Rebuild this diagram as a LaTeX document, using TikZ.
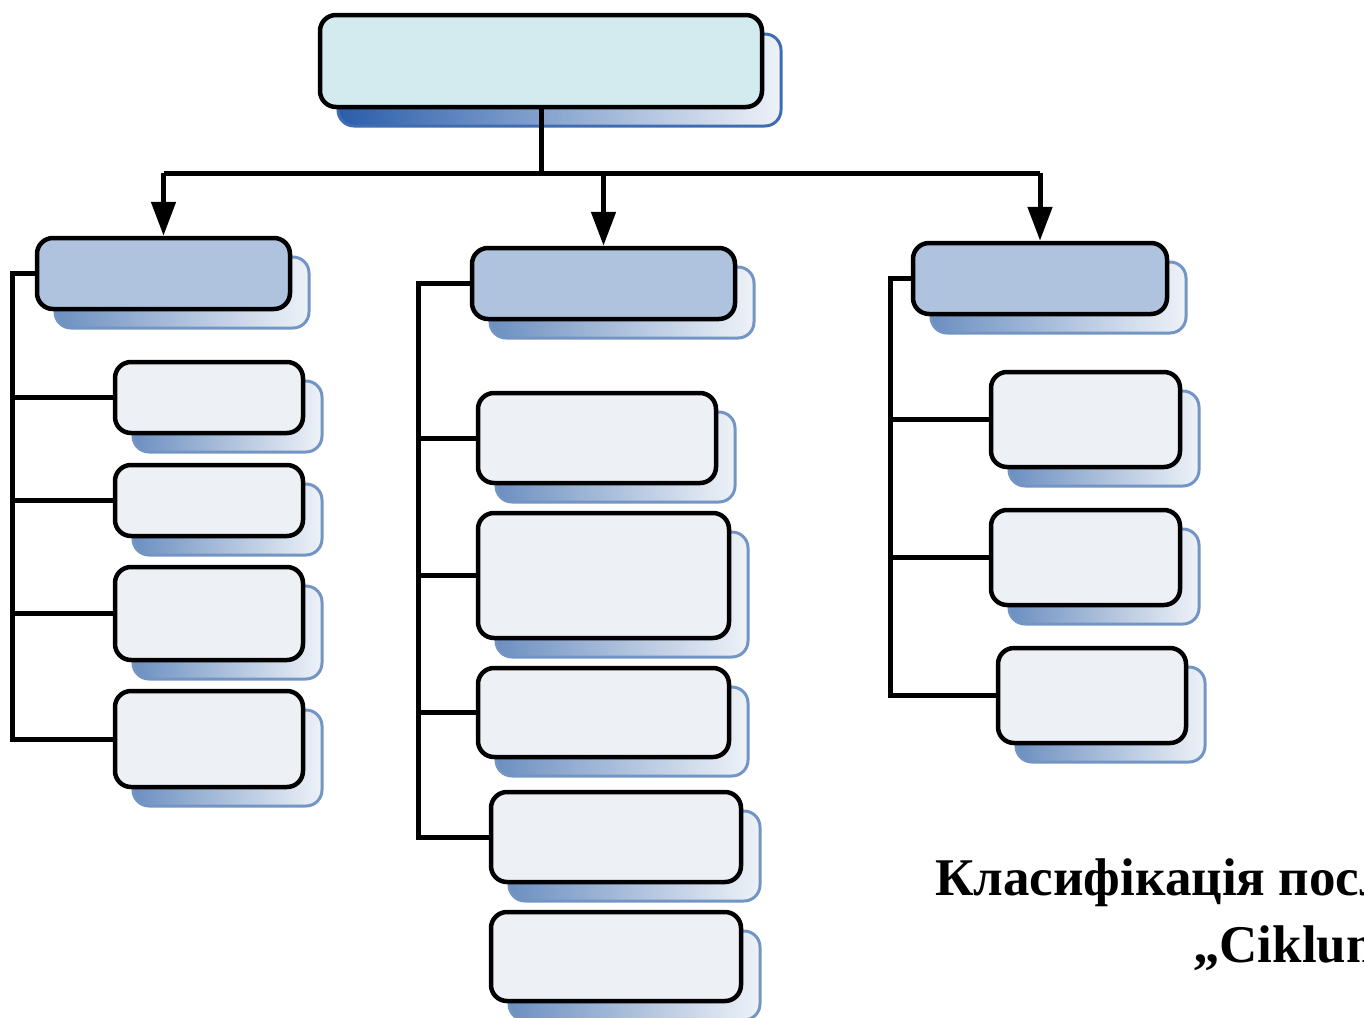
\documentclass[tikz,border=0pt]{standalone}
\usepackage{fontspec}
\setmainfont{Liberation Serif}
\usetikzlibrary{arrows.meta}

\definecolor{topfill}{HTML}{D3EBEF}
\definecolor{midfill}{HTML}{B0C3DE}
\definecolor{leaffill}{HTML}{EDF0F5}
\definecolor{shdark}{HTML}{2A5DAA}
\definecolor{shmid}{HTML}{6C8FC0}
\definecolor{shlight}{HTML}{EEF2F8}

\tikzset{
  boxline/.style={draw=black, line width=4.5pt, rounded corners=16pt, inner sep=0pt},
  topbox/.style={boxline, fill=topfill},
  midbox/.style={boxline, fill=midfill},
  leafbox/.style={boxline, fill=leaffill},
  shadowtop/.style={left color=shdark, right color=shlight, draw=shdark!90, line width=3pt, rounded corners=16pt},
  shadowsoft/.style={left color=shmid, right color=shlight, draw=shmid!95, line width=3pt, rounded corners=16pt},
  conn/.style={draw=black, line width=5pt},
  arr/.style={conn, -{Triangle[width=24pt,length=34pt]}},
  caption/.style={font=\fontsize{53}{58}\selectfont\bfseries, inner sep=0pt}
}

% box: name, x1, y1, x2, y2, box style, shadow style
\newcommand\shadowedbox[7]{%
  \path[#7] ({#2+18},{#3+19}) rectangle ({#4+19},{#5+19});
  \node[#6, minimum width={(#4-#2)*1pt}, minimum height={(#5-#3)*1pt}]
    (#1) at ({(#2+#4)/2},{(#3+#5)/2}) {};
}

\begin{document}
\begin{tikzpicture}[x=1pt, y=-1pt]
\useasboundingbox (0,0) rectangle (1364,1017);

% root
\shadowedbox{T}{320}{15}{762}{107}{topbox}{shadowtop}

% second level
\shadowedbox{L}{37}{238}{290}{309}{midbox}{shadowsoft}
\shadowedbox{M}{472}{248}{735}{319}{midbox}{shadowsoft}
\shadowedbox{R}{913}{243}{1167}{314}{midbox}{shadowsoft}

% left group
\shadowedbox{L1}{115}{362}{303}{433}{leafbox}{shadowsoft}
\shadowedbox{L2}{115}{465}{303}{536}{leafbox}{shadowsoft}
\shadowedbox{L3}{115}{567}{303}{660}{leafbox}{shadowsoft}
\shadowedbox{L4}{115}{691}{303}{787}{leafbox}{shadowsoft}

% middle group
\shadowedbox{M1}{478}{393}{716}{483}{leafbox}{shadowsoft}
\shadowedbox{M2}{478}{513}{729}{638}{leafbox}{shadowsoft}
\shadowedbox{M3}{478}{668}{729}{757}{leafbox}{shadowsoft}
\shadowedbox{M4}{491}{792}{741}{882}{leafbox}{shadowsoft}
\shadowedbox{M5}{491}{912}{741}{1001}{leafbox}{shadowsoft}

% right group
\shadowedbox{R1}{991}{372}{1180}{467}{leafbox}{shadowsoft}
\shadowedbox{R2}{991}{510}{1180}{605}{leafbox}{shadowsoft}
\shadowedbox{R3}{998}{648}{1186}{743}{leafbox}{shadowsoft}

% bus from the root to the second level
\coordinate (bus) at (0,173);
\draw[conn] (T.south) -- (T.south |- bus);
\draw[conn] (L.north |- bus) -- (R.north |- bus);
\draw[arr] (L.north |- bus) -- (L.north);
\draw[arr] (M.north |- bus) -- (M.north);
\draw[arr] (R.north |- bus) -- (R.north);

% spines of the three groups
\coordinate (sL) at (12,0);
\coordinate (sM) at (418,0);
\coordinate (sR) at (890,0);

\draw[conn] (L.west) -- (L.west -| sL) -- (L4.west -| sL) -- (L4.west);
\foreach \n in {L1,L2,L3} \draw[conn] (\n.west -| sL) -- (\n.west);

\draw[conn] (M.west) -- (M.west -| sM) -- (M4.west -| sM) -- (M4.west);
\foreach \n in {M1,M2,M3} \draw[conn] (\n.west -| sM) -- (\n.west);

\draw[conn] (R.west) -- (R.west -| sR) -- (R3.west -| sR) -- (R3.west);
\foreach \n in {R1,R2} \draw[conn] (\n.west -| sR) -- (\n.west);

% caption, running past the right edge of the page
\node[caption, anchor=base west] (cap1) at (935,895) {Класифікація послуг};
\node[caption, anchor=base west] (cap2) at (1193,962) {„Ciklum“};
\end{tikzpicture}
\end{document}
